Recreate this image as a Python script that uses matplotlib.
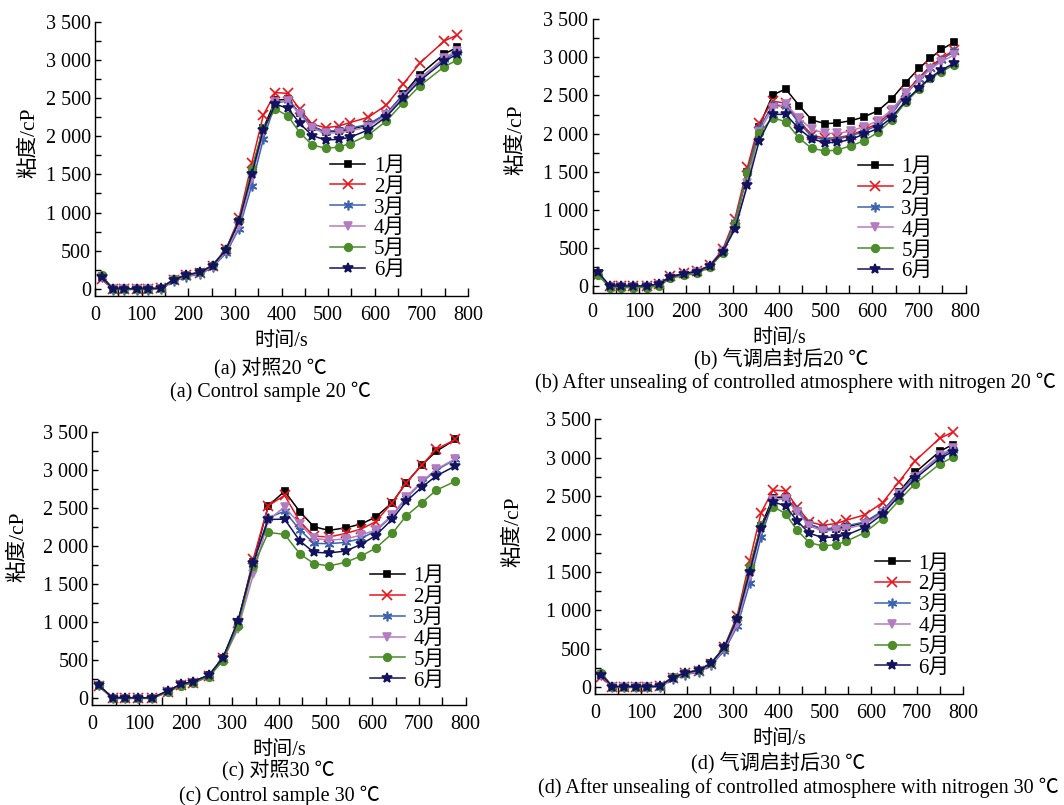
import matplotlib
matplotlib.use("Agg")
import matplotlib.pyplot as plt
import matplotlib.ticker as mtick

# ── 0. 全局设置 ────────────────────────────────────────────────
plt.rcParams['font.family'] = ['Liberation Serif', 'Noto Sans CJK SC']
plt.rcParams['axes.unicode_minus'] = False
FS = 14.5

MONTHS = ["1月", "2月", "3月", "4月", "5月", "6月"]
COLORS = ['#000000', '#e8141c', '#3a62b0', '#b47cc0', '#4d8c2a', '#12125e']
MARKERS = ['s', 'x', (6, 2, 0), 'v', 'o', '*']
MSIZES = [4.5, 6.5, 7, 6, 5.5, 7.5]

# ── 1. 数据 ───────────────────────────────────────────
# (a) 对照20 ℃
x_a = [14, 38, 62, 89, 114, 141, 169, 196, 225, 252, 281, 309, 336, 361,
       387, 414, 439, 466, 495, 523, 546, 586, 625, 661, 696, 749, 777]
a_m1 = [170, 0, 0, 0, 0, 5, 120, 180, 215, 305, 510, 890, 1545, 2105,
        2476, 2485, 2300, 2126, 2061, 2070, 2091, 2148, 2293, 2551, 2805, 3080, 3168]
a_m2 = [130, -5, -5, -5, -5, 5, 115, 175, 210, 300, 520, 930, 1645, 2280,
        2573, 2564, 2354, 2157, 2113, 2135, 2179, 2249, 2411, 2686, 2958, 3251, 3330]
a_m3 = [160, -10, -10, -10, -10, -5, 100, 160, 190, 280, 470, 790, 1352, 1965,
        2433, 2470, 2310, 2126, 2061, 2083, 2105, 2157, 2301, 2542, 2761, 3015, 3102]
a_m4 = [150, -5, -5, -5, -5, 0, 110, 165, 200, 290, 490, 820, 1448, 2052,
        2446, 2460, 2288, 2104, 2039, 2048, 2070, 2126, 2280, 2520, 2748, 3032, 3119]
a_m5 = [180, 0, 0, 0, 0, 10, 130, 185, 220, 310, 520, 900, 1571, 2113,
        2358, 2266, 2048, 1886, 1842, 1859, 1903, 2017, 2201, 2441, 2660, 2914, 3001]
a_m6 = [160, 0, 0, 0, 0, 10, 120, 180, 215, 305, 515, 890, 1500, 2083,
        2420, 2367, 2170, 2008, 1952, 1960, 1986, 2083, 2258, 2498, 2726, 2988, 3076]

# (b) 气调启封后20 ℃
x_b = [12, 37, 60, 87, 116, 143, 166, 196, 223, 251, 279, 305, 332, 357, 386,
       414, 443, 470, 499, 525, 554, 581, 612, 641, 671, 700, 724, 748, 775]
b_m1 = [165, 0, 0, 0, 0, 30, 120, 160, 185, 260, 450, 800, 1500, 2090, 2506,
        2585, 2366, 2178, 2130, 2139, 2169, 2217, 2300, 2453, 2668, 2856, 2987, 3105, 3197]
b_m2 = [150, 0, 0, 0, 0, 20, 125, 165, 195, 270, 480, 880, 1560, 2134, 2427,
        2397, 2165, 1981, 1937, 1946, 1981, 2047, 2134, 2287, 2541, 2734, 2878, 2987, 3097]
b_m3 = [170, 0, 0, 0, 0, 25, 120, 160, 190, 265, 460, 840, 1500, 2068, 2375,
        2366, 2134, 1959, 1915, 1924, 1972, 2025, 2112, 2252, 2506, 2716, 2856, 2965, 3083]
b_m4 = [160, -10, -10, -10, -10, 10, 110, 150, 180, 255, 440, 760, 1356, 2025, 2331,
        2384, 2200, 2055, 2003, 2003, 2034, 2090, 2165, 2309, 2528, 2703, 2847, 2943, 3031]
b_m5 = [140, -20, -20, -20, -20, 0, 100, 140, 165, 245, 430, 815, 1479, 2003, 2209,
        2156, 1937, 1806, 1771, 1784, 1841, 1902, 2016, 2178, 2410, 2585, 2725, 2812, 2900]
b_m6 = [180, 0, 0, 0, 0, 30, 120, 160, 190, 265, 450, 745, 1326, 1902, 2252,
        2252, 2060, 1929, 1880, 1885, 1924, 1990, 2068, 2209, 2427, 2602, 2734, 2834, 2922]

# (c) 对照30 ℃
x_c = [14, 43, 70, 97, 128, 162, 190, 216, 250, 280, 312, 345, 377,
       412, 445, 475, 507, 543, 576, 607, 643, 673, 707, 737, 778]
c_m1 = [165, 0, 0, 0, 0, 90, 180, 215, 300, 530, 1000, 1790, 2530,
        2723, 2451, 2255, 2207, 2241, 2290, 2381, 2574, 2836, 3073, 3248, 3405]
c_m2 = [160, -5, -5, -5, -5, 75, 165, 200, 290, 520, 980, 1833, 2530,
        2670, 2320, 2132, 2119, 2167, 2224, 2320, 2574, 2836, 3073, 3274, 3405]
c_m3 = [165, -5, -5, -5, -5, 85, 175, 210, 295, 520, 990, 1790, 2373,
        2460, 2211, 2036, 2031, 2049, 2101, 2198, 2399, 2635, 2845, 2998, 3143]
c_m4 = [150, -10, -10, -10, -10, 80, 165, 195, 280, 500, 906, 1627, 2342,
        2517, 2285, 2101, 2080, 2093, 2145, 2211, 2408, 2648, 2854, 3012, 3150]
c_m5 = [165, -5, -5, -5, -5, 80, 160, 195, 280, 490, 949, 1737, 2180,
        2154, 1896, 1769, 1738, 1786, 1870, 1970, 2167, 2399, 2574, 2736, 2854]
c_m6 = [165, 0, 0, 0, 0, 95, 180, 215, 300, 530, 1015, 1780, 2351,
        2355, 2066, 1918, 1909, 1935, 2023, 2136, 2355, 2591, 2780, 2924, 3055]

# (d) 气调启封后30 ℃ —— 原图中与 (a) 曲线相同
x_d = x_a
d_series = [a_m1, a_m2, a_m3, a_m4, a_m5, a_m6]


def thousands(v, pos):
    return f"{int(v):,}".replace(",", " ")


def draw_panel(ax, x, series, leg_xy, ylab_xy):
    for ys, lab, c, m, ms in zip(series, MONTHS, COLORS, MARKERS, MSIZES):
        ax.plot(x, ys, color=c, marker=m, markersize=ms, lw=1.1,
                markeredgewidth=1.2, label=lab)
    ax.set_xlim(0, 800)
    ax.set_ylim(-95, 3500)
    ax.spines['top'].set_visible(False)
    ax.spines['right'].set_visible(False)
    for s in ('left', 'bottom'):
        ax.spines[s].set_linewidth(1.0)
    ax.xaxis.set_major_locator(mtick.MultipleLocator(100))
    ax.xaxis.set_minor_locator(mtick.MultipleLocator(50))
    ax.yaxis.set_major_locator(mtick.MultipleLocator(500))
    ax.yaxis.set_minor_locator(mtick.MultipleLocator(250))
    ax.yaxis.set_major_formatter(mtick.FuncFormatter(thousands))
    ax.tick_params(axis='x', which='both', direction='in', length=5.5,
                   width=1.0, labelsize=FS, pad=7)
    ax.tick_params(axis='y', which='both', direction='in', length=4,
                   width=1.0, labelsize=FS, pad=3)
    ax.set_xlabel("时间/s", fontsize=FS, labelpad=5)
    ax.set_ylabel("粘度/cP", fontsize=FS + 1)
    ax.yaxis.set_label_coords(*ylab_xy)
    ax.legend(loc='upper left', bbox_to_anchor=leg_xy, frameon=False,
              fontsize=FS + 0.5, borderpad=0, borderaxespad=0,
              handlelength=1.7, handletextpad=0.4, labelspacing=0.06)


# ── 2. 画图 ────────────────────────────────────────────────────
fig = plt.figure(figsize=(10.64, 8.05), dpi=100)

ax_a = fig.add_axes([0.0893, 0.6323, 0.3506, 0.3404])
ax_b = fig.add_axes([0.5570, 0.6357, 0.3506, 0.3404])
ax_c = fig.add_axes([0.0869, 0.1242, 0.3506, 0.3388])
ax_d = fig.add_axes([0.5592, 0.1379, 0.3460, 0.3412])

draw_panel(ax_a, x_a, [a_m1, a_m2, a_m3, a_m4, a_m5, a_m6], (0.63, 0.51), (-0.15, 0.56))
draw_panel(ax_b, x_b, [b_m1, b_m2, b_m3, b_m4, b_m5, b_m6], (0.71, 0.495), (-0.178, 0.56))
draw_panel(ax_c, x_c, [c_m1, c_m2, c_m3, c_m4, c_m5, c_m6], (0.743, 0.507), (-0.173, 0.58))
draw_panel(ax_d, x_d, d_series, (0.76, 0.51), (-0.195, 0.59))

# 子图标题（中英文）
fig.text(270 / 1064, 1 - 369 / 805, "(a) 对照20 ℃", ha='center', va='center', fontsize=FS)
fig.text(270 / 1064, 1 - 392 / 805, "(a) Control sample 20 ℃", ha='center', va='center', fontsize=FS)
fig.text(781 / 1064, 1 - 359 / 805, "(b) 气调启封后20 ℃", ha='center', va='center', fontsize=FS)
fig.text(795 / 1064, 1 - 383 / 805, "(b) After unsealing of controlled atmosphere with nitrogen 20 ℃",
         ha='center', va='center', fontsize=FS)
fig.text(278 / 1064, 1 - 771 / 805, "(c) 对照30 ℃", ha='center', va='center', fontsize=FS)
fig.text(279 / 1064, 1 - 796 / 805, "(c) Control sample 30 ℃", ha='center', va='center', fontsize=FS)
fig.text(778 / 1064, 1 - 763 / 805, "(d) 气调启封后30 ℃", ha='center', va='center', fontsize=FS)
fig.text(798 / 1064, 1 - 788 / 805, "(d) After unsealing of controlled atmosphere with nitrogen 30 ℃",
         ha='center', va='center', fontsize=FS)

fig.savefig("out.png", dpi=100)
